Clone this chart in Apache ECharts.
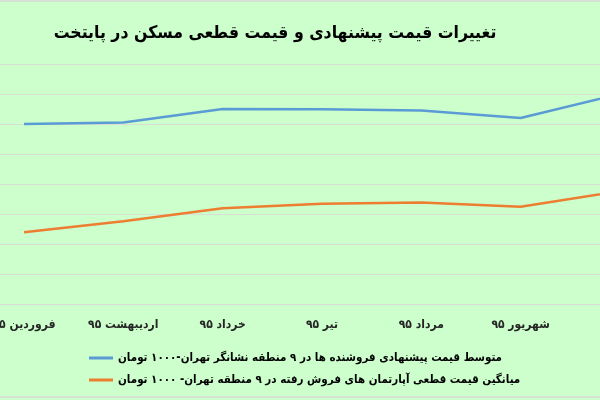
<!DOCTYPE html>
<html>
<head>
<meta charset="utf-8">
<script src="https://cdn.jsdelivr.net/npm/echarts@6/dist/echarts.min.js"></script>
<style>html,body{margin:0;padding:0;background:#CCFFCC;}#c{width:600px;height:400px;}</style>
</head>
<body>
<div id="c"></div>
<script>
const titleText = 'تغییرات قیمت پیشنهادی و قیمت قطعی مسکن در پایتخت';
const categories = ['فروردین ۹۵', 'اردیبهشت ۹۵', 'خرداد ۹۵', 'تیر ۹۵', 'مرداد ۹۵', 'شهریور ۹۵', 'مهر ۹۵'];
const seriesNames = [
  'متوسط قیمت پیشنهادی فروشنده ها در ۹ منطقه نشانگر تهران-۱۰۰۰ تومان',
  'میانگین قیمت قطعی آپارتمان های فروش رفته در ۹ منطقه تهران- ۱۰۰۰ تومان'
];
const offeredPrice = [6000, 6025, 6250, 6245, 6225, 6100, 6500];
const finalPrice = [4195, 4380, 4595, 4670, 4690, 4620, 4880];

const font = "'DejaVu Sans Condensed', 'DejaVu Sans'";
const chart = echarts.init(document.getElementById('c'), null, {renderer: 'canvas'});
chart.setOption({
  backgroundColor: '#CCFFCC',
  animation: false,
  title: {
    text: titleText,
    left: 270, top: 19, textAlign: 'center',
    textStyle: {fontFamily: font, fontSize: 17.5, fontWeight: 'bold', color: '#000'}
  },
  legend: {
    orient: 'vertical',
    left: 84, top: 347,
    itemGap: 10,
    itemWidth: 24, itemHeight: 3,
    icon: 'rect',
    textStyle: {fontFamily: font, fontSize: 11.5, fontWeight: 'bold', color: '#000'},
    data: seriesNames
  },
  grid: {left: -25.67, right: -69.6, top: 64, bottom: 96, containLabel: false, outerBoundsMode: 'none'},
  xAxis: {
    type: 'category',
    data: categories,
    boundaryGap: true,
    axisLine: {show: true, lineStyle: {color: '#D9D9D9', width: 1}},
    axisTick: {show: false},
    axisLabel: {interval: 0, margin: 15, fontFamily: font, fontSize: 12, fontWeight: 'bold', color: '#262626'}
  },
  yAxis: {
    type: 'value',
    min: 3000, max: 7000, interval: 500,
    axisLabel: {show: false},
    axisLine: {show: false},
    axisTick: {show: false},
    splitLine: {lineStyle: {color: '#D9DFD2', width: 1}}
  },
  graphic: [
    {type: 'line', shape: {x1: 0, y1: 1, x2: 600, y2: 1}, style: {stroke: '#D9D9D9', lineWidth: 1.5}},
    {type: 'line', shape: {x1: 0, y1: 397, x2: 600, y2: 397}, style: {stroke: '#D9D9D9', lineWidth: 1.5}}
  ],
  series: [
    {name: seriesNames[0], type: 'line', data: offeredPrice, symbol: 'none',
     lineStyle: {color: '#5B9BD5', width: 2.5}, itemStyle: {color: '#5B9BD5'}},
    {name: seriesNames[1], type: 'line', data: finalPrice, symbol: 'none',
     lineStyle: {color: '#ED7D31', width: 2.5}, itemStyle: {color: '#ED7D31'}}
  ]
});
</script>
</body>
</html>
